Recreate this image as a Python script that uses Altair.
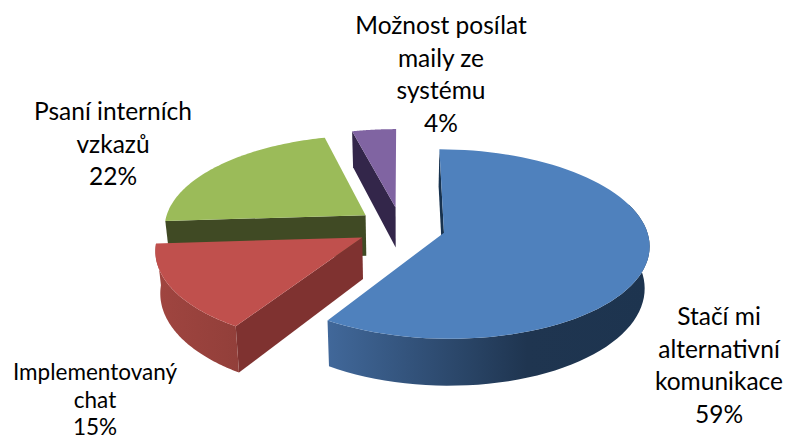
import math
import altair as alt
import pandas as pd

names = ["Stačí mi\nalternativní\nkomunikace\n59%", "Implementovaný\nchat\n15%",
         "Psaní interních\nvzkazů\n22%", "Možnost posílat\nmaily ze\nsystému\n4%"]
shares = [59, 15, 22, 4]
top_colors = ["#4F81BD", "#C0504D", "#9BBB59", "#8064A2"]
cut_colors = ["#17324F", "#7F3230", "#404A24", "#33264A"]
rim_stops = [
    [(0, "#41689A"), (0.62, "#1F3550"), (1, "#1D344F")],
    [(0, "#A04540"), (1, "#923F3A")],
    None,
    None,
]
rim_start = [70, None, None, None]
label_x = [719, 95, 113, 441]
label_y = [306, 362, 101, 15]
label_size = [24.5, 22.5, 24.5, 24.5]
label_lead = [32.6, 27.5, 32.6, 32.6]

CX, CY, W, A, K, EXPLODE, DEPTH, CONVERGE = 401, 227, 202, 92, 0.119, 0.22, 41, 0.02
PAGE = 8


def project(sx, sy, z):
    d = 1 + K * sy
    f = 1 - CONVERGE * z / DEPTH
    return [CX + W * sx / d * f, CY - A * sy / d + z / d]


def point(deg, r, off, z=0):
    t = math.radians(deg)
    return project(off[0] + r * math.sin(t), off[1] + r * math.cos(t), z * DEPTH)


def feature(ring):
    ring = ring + [ring[0]]
    return {"type": "Feature", "properties": {}, "geometry": {"type": "Polygon", "coordinates": [ring]}}


def shape(ring, fill):
    data = alt.InlineData(values={"type": "FeatureCollection", "features": [feature(ring)]},
                          format=alt.DataFormat(type="json", property="features"))
    return alt.Chart(data).mark_geoshape(fill=fill, stroke="transparent", strokeWidth=0).project(
        type="identity", scale=1, translate=[-PAGE, -PAGE])


slices = []
cum = 0
for i, s in enumerate(shares):
    a0, a1 = cum * 3.6, (cum + s) * 3.6
    cum += s
    mid = math.radians((a0 + a1) / 2)
    slices.append((i, a0, a1, (EXPLODE * math.sin(mid), EXPLODE * math.cos(mid))))

layers = []
for i, a0, a1, off in [slices[3], slices[2], slices[1], slices[0]]:
    # visible cut face at the start of the slice
    cut = [point(a0, 0, off), point(a0, 1, off), point(a0, 1, off, 1), point(a0, 0, off, 1)]
    layers.append(shape(cut, cut_colors[i]))
    steps = [a0 + (a1 - a0) * n / 80 for n in range(81)]
    if rim_stops[i]:
        r0 = rim_start[i] or a0
        rim_steps = [d for d in steps if d >= r0]
        rim = [point(d, 1, off) for d in rim_steps] + [point(d, 1, off, 1) for d in reversed(rim_steps)]
        grad = {"gradient": "linear", "x1": 0, "x2": 1, "y1": 0, "y2": 0,
                "stops": [{"offset": o, "color": c} for o, c in rim_stops[i]]}
        layers.append(shape(rim, grad))
    top = [point(a0, 0, off)] + [point(d, 1, off) for d in steps]
    layers.append(shape(top, top_colors[i]))

labels = pd.DataFrame({"t": names, "x": [x - PAGE for x in label_x], "y": [y - PAGE for y in label_y],
                       "s": label_size, "l": label_lead})
for (size, lead), part in labels.groupby(["s", "l"], sort=False):
    layers.append(
        alt.Chart(part).mark_text(font="Lato", fontSize=size, lineBreak="\n", lineHeight=lead,
                                  align="center", baseline="top", color="#000000").encode(
            x=alt.X("x:Q", scale=None), y=alt.Y("y:Q", scale=None), text="t:N")
    )

chart = alt.layer(*layers).properties(width=775, height=432, padding=0, autosize="none").configure_view(stroke=None)
chart.save("out.html", embed_options={"renderer": "svg", "actions": False})
